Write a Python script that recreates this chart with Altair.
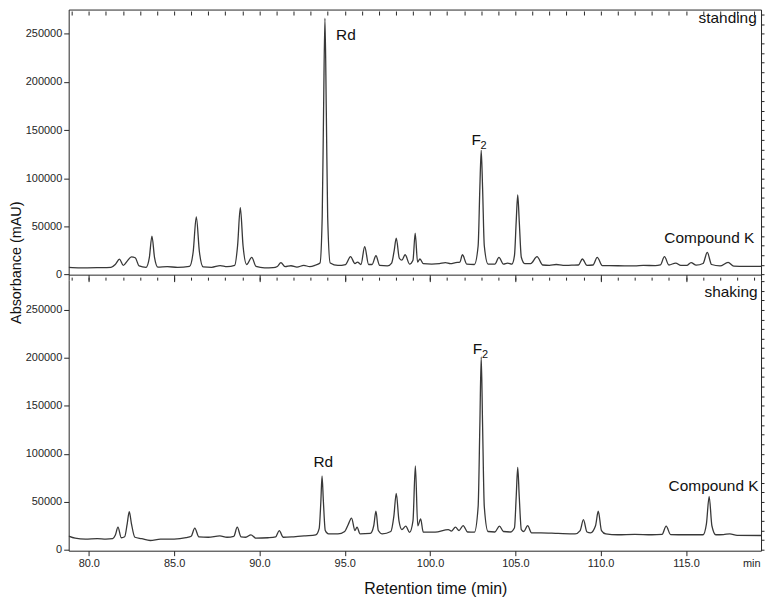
import altair as alt
import pandas as pd

# ---------------- data ----------------
# standing (upper trace): retention time (min) and absorbance (mAU)
top_time = [78.82, 79.5, 80.5, 81.3, 81.55, 81.8, 82.02, 82.25, 82.5, 82.72, 82.95, 83.35, 83.55, 83.7, 83.85,
            84.05, 84.6, 85.2, 85.9, 86.12, 86.3, 86.48, 86.7, 87.2, 87.7, 88.1, 88.55, 88.72, 88.88, 89.04,
            89.25, 89.55, 89.8, 90.3, 90.8, 91.05, 91.26, 91.5, 91.85, 92.2, 92.6, 92.95, 93.3, 93.55, 93.68,
            93.76, 93.84, 93.92, 94.0, 94.15, 94.6, 95.05, 95.34, 95.6, 95.75, 95.95, 96.17, 96.4, 96.6, 96.83,
            97.05, 97.5, 97.75, 97.9, 98.02, 98.2, 98.35, 98.54, 98.8, 99.0, 99.13, 99.27, 99.41, 99.6, 100.1,
            100.55, 100.9, 101.2, 101.5, 101.75, 101.9, 102.15, 102.6, 102.82, 102.92, 103.0, 103.08, 103.18,
            103.4, 103.8, 104.04, 104.3, 104.55, 104.8, 104.95, 105.05, 105.14, 105.23, 105.35, 105.55, 105.9,
            106.27, 106.6, 107.0, 107.4, 107.8, 108.3, 108.7, 108.93, 109.2, 109.55, 109.8, 110.1, 111.0,
            112.0, 112.5, 113.2, 113.5, 113.74, 114.0, 114.4, 114.7, 115.05, 115.3, 115.6, 116.0, 116.25,
            116.5, 117.0, 117.47, 117.8, 118.5, 119.87]
top_abs = [7500, 7000, 7200, 7500, 10500, 16000, 9500, 14000, 18500, 17500, 9000, 7500, 18000, 40000, 18000,
           7800, 8300, 7500, 8500, 24000, 60000, 24000, 8000, 7600, 9300, 8200, 9500, 30000, 69500, 30000,
           10500, 17900, 8500, 7000, 7200, 8500, 12500, 8200, 9200, 7800, 9600, 8300, 10000, 12000, 60000,
           170000, 266000, 170000, 60000, 12000, 9500, 10500, 18600, 11500, 13000, 10500, 28900, 10500, 10500, 19600,
           9500, 9000, 12000, 25000, 37900, 17000, 15000, 20600, 11000, 15000, 43000, 13000, 16200, 11500, 11000,
           11500, 12500, 11500, 12500, 13000, 20600, 11000, 10500, 30000, 90000, 129000, 90000, 30000,
           11000, 11000, 17900, 11000, 12000, 11000, 20000, 55000, 82600, 55000, 18000, 11500, 11500,
           18600, 10000, 9500, 10500, 9500, 9800, 10000, 16200, 9500, 10000, 17900, 9300, 9200,
           9000, 9600, 9300, 10000, 18600, 10000, 12000, 9500, 9500, 12500, 9800, 11500, 23000,
           10500, 9000, 12700, 8800, 8600, 8600]

# shaking (lower trace)
bot_time = [78.82, 79.2, 79.8, 80.5, 81.0, 81.4, 81.55, 81.71, 81.9, 82.1, 82.25, 82.37, 82.5, 82.7, 83.1,
            83.6, 84.2, 85.0, 85.7, 86.0, 86.21, 86.45, 87.0, 87.68, 88.1, 88.5, 88.7, 88.92, 89.2, 89.5,
            89.8, 90.5, 90.95, 91.16, 91.4, 92.0, 92.7, 93.3, 93.5, 93.6, 93.67, 93.75, 93.86, 94.05, 94.6,
            95.0, 95.2, 95.4, 95.6, 95.72, 95.9, 96.5, 96.7, 96.83, 96.97, 97.2, 97.7, 97.88, 98.02, 98.18,
            98.35, 98.58, 98.8, 99.0, 99.14, 99.28, 99.45, 99.6, 100.3, 101.07, 101.25, 101.49, 101.7, 101.94,
            102.2, 102.6, 102.82, 102.92, 103.0, 103.08, 103.18, 103.4, 103.8, 104.07, 104.3, 104.7, 104.95,
            105.05, 105.14, 105.23, 105.35, 105.5, 105.72, 105.95, 106.5, 107.5, 108.5, 108.8, 108.99, 109.2,
            109.41, 109.7, 109.86, 110.05, 110.3, 111.0, 112.0, 113.0, 113.6, 113.84, 114.1, 115.0, 116.0,
            116.2, 116.36, 116.52, 116.75, 117.2, 117.57, 118.0, 119.87]
bot_abs = [14200, 12000, 11000, 11600, 11000, 11500, 15000, 23500, 12500, 13500, 27000, 39700, 27000, 13000, 11500,
           9600, 11000, 11000, 12500, 14000, 22500, 13500, 13000, 14500, 13000, 14000, 23500, 13500, 13000, 15500,
           12000, 12500, 13500, 20000, 13000, 13500, 14500, 15500, 22000, 50000, 77000, 50000, 20000, 16500, 16500,
           19000, 26000, 32900, 20000, 23500, 16500, 17000, 25000, 40100, 20000, 16500, 19000, 35000, 58800, 30000,
           21000, 24600, 18000, 30000, 87400, 25000, 32100, 18500, 18300, 21000, 19500, 23500, 20000, 25200,
           18500, 18300, 45000, 130000, 200900, 130000, 45000, 19000, 18500, 24600, 19000, 18500, 23000,
           55000, 85700, 55000, 21000, 19000, 25200, 17500, 17500, 17000, 16600, 20000, 31400, 18500,
           17600, 25000, 40100, 20000, 16500, 15600, 16000, 15600, 16000, 24600, 15800, 15600, 15600,
           27000, 55700, 25000, 15600, 15800, 16600, 15000, 14800]

# peak annotations (text, retention time, absorbance at text baseline)
top_label_text = ["Rd", "F", "Compound K"]
top_label_time = [95.07, 102.70, 116.37]
top_label_abs = [243200, 134200, 32300]
top_sub_text = ["2"]
top_sub_time = [103.13]
top_sub_abs = [130000]
top_tag_text = ["standing"]
top_tag_time = [119.15]
top_tag_abs = [261400]

bot_label_text = ["Rd", "F", "Compound K"]
bot_label_time = [93.74, 102.78, 116.62]
bot_label_abs = [86400, 204300, 61200]
bot_sub_text = ["2"]
bot_sub_time = [103.22]
bot_sub_abs = [200200]
bot_tag_text = ["shaking"]
bot_tag_time = [119.2]
bot_tag_abs = [263700]

x_major = [80, 85, 90, 95, 100, 105, 110, 115]
x_minor = list(range(79, 120))
y_major = [0, 50000, 100000, 150000, 200000, 250000]
y_minor_top = list(range(0, 275000, 10000))
y_minor_bot = list(range(0, 281000, 10000))
unit_text = ["min"]
unit_time = [119.37]

X_DOMAIN = [78.82, 119.40]
TOP_DOMAIN = [-5700, 275000]
BOT_DOMAIN = [-1000, 281000]
W = 696
H = 272

FONT = "Liberation Sans"
NARROW = "Liberation Sans Narrow, Arial Narrow, Liberation Sans"
INK = "#262626"
LINE = "#383838"


def panel(times, values, y_domain, labels, subs, tag, y_minor, is_top):
    df = pd.DataFrame({"t": times, "v": values})
    xs = alt.Scale(domain=X_DOMAIN, nice=False, zero=False)
    ys = alt.Scale(domain=y_domain, nice=False, zero=False)

    if is_top:
        x_major_axis = alt.Axis(values=x_major, labels=False, tickSize=7, offset=-5.5, title=None,
                                grid=False, domainColor=INK, tickColor=INK)
        x_minor_axis = alt.Axis(values=x_minor, labels=False, tickSize=4, offset=-5.5, domain=False,
                                title=None, grid=False, tickColor=INK)
        y_major_axis = alt.Axis(values=y_major, format="d", tickSize=5, labelPadding=2, grid=False,
                                title="Absorbance (mAU)", titleFont=FONT, titleFontSize=14.5,
                                titleFontWeight="normal", titleColor="#111", titleAngle=270,
                                titleX=-52.5, titleY=254, titleAlign="center", titleBaseline="middle",
                                labelFont=FONT, labelFontSize=11, labelColor=INK,
                                domainColor=INK, tickColor=INK)
    else:
        x_major_axis = alt.Axis(values=x_major, format=".1f", tickSize=5, labelPadding=2, grid=False,
                                labelFont=NARROW, labelFontSize=11, labelColor=INK,
                                title="Retention time (min)", titleFont=FONT, titleFontSize=16,
                                titleFontWeight="normal", titleColor="#111",
                                titleX=368.5, titleY=43, titleAlign="center", titleBaseline="alphabetic",
                                domainColor=INK, tickColor=INK)
        x_minor_axis = alt.Axis(values=x_minor, labels=False, tickSize=3, domain=False, title=None,
                                grid=False, tickColor=INK)
        y_major_axis = alt.Axis(values=y_major, format="d", tickSize=5, labelPadding=2, grid=False,
                                title=None, labelFont=FONT, labelFontSize=11, labelColor=INK,
                                domainColor=INK, tickColor=INK)
    y_minor_axis = alt.Axis(values=y_minor, labels=False, tickSize=3, domain=False, title=None,
                            grid=False, tickColor=INK)

    line = alt.Chart(df).mark_line(color=LINE, strokeWidth=1.3, interpolate="monotone", clip=True).encode(
        x=alt.X("t:Q", scale=xs, axis=x_major_axis),
        y=alt.Y("v:Q", scale=ys, axis=y_major_axis),
    )
    minor = alt.Chart(df).mark_line(opacity=0, clip=True).encode(
        x=alt.X("t:Q", scale=xs, axis=x_minor_axis),
        y=alt.Y("v:Q", scale=ys, axis=y_minor_axis),
    )
    frame_x = alt.Axis(orient="top", labels=False, ticks=False, title=None, grid=False,
                       domainColor=INK) if is_top else None
    frame = alt.Chart(df).mark_line(opacity=0, clip=True).encode(
        x=alt.X("t:Q", scale=xs, axis=frame_x),
        y=alt.Y("v:Q", scale=ys, axis=alt.Axis(orient="right", labels=False, ticks=False, title=None,
                                               grid=False, domainColor=INK)),
    )

    lab_df = pd.DataFrame({"text": labels[0], "t": labels[1], "v": labels[2]})
    sub_df = pd.DataFrame({"text": subs[0], "t": subs[1], "v": subs[2]})
    tag_df = pd.DataFrame({"text": tag[0], "t": tag[1], "v": tag[2]})

    lab = alt.Chart(lab_df).mark_text(font=FONT, fontSize=15.5, color="#111", align="center",
                                      baseline="alphabetic").encode(
        x=alt.X("t:Q", scale=xs, axis=None), y=alt.Y("v:Q", scale=ys, axis=None), text="text:N")
    sub = alt.Chart(sub_df).mark_text(font=FONT, fontSize=11, color="#111", align="center",
                                      baseline="alphabetic").encode(
        x=alt.X("t:Q", scale=xs, axis=None), y=alt.Y("v:Q", scale=ys, axis=None), text="text:N")
    tg = alt.Chart(tag_df).mark_text(font=FONT, fontSize=15.5, color="#111", align="right",
                                     baseline="alphabetic").encode(
        x=alt.X("t:Q", scale=xs, axis=None), y=alt.Y("v:Q", scale=ys, axis=None), text="text:N")

    layers = [line, minor, frame, lab, sub, tg]
    if not is_top:
        unit_df = pd.DataFrame({"text": unit_text, "t": unit_time})
        unit = alt.Chart(unit_df).mark_text(font=NARROW, fontSize=11, color=INK, align="right",
                                            baseline="middle").encode(
            x=alt.X("t:Q", scale=xs, axis=None), y=alt.value(H + 13), text="text:N")
        layers.append(unit)

    return alt.layer(*layers).resolve_axis(x="independent", y="independent").properties(width=W, height=H)


top = panel(top_time, top_abs, TOP_DOMAIN,
            (top_label_text, top_label_time, top_label_abs),
            (top_sub_text, top_sub_time, top_sub_abs),
            (top_tag_text, top_tag_time, top_tag_abs), y_minor_top, True)
bottom = panel(bot_time, bot_abs, BOT_DOMAIN,
               (bot_label_text, bot_label_time, bot_label_abs),
               (bot_sub_text, bot_sub_time, bot_sub_abs),
               (bot_tag_text, bot_tag_time, bot_tag_abs), y_minor_bot, False)

chart = alt.vconcat(top, bottom, spacing=0, bounds="flush").properties(
    padding=0, background="white"
).configure_view(stroke=None).configure_axis(domainWidth=1, tickWidth=1)

chart.save("out.html", embed_options={"renderer": "svg", "actions": False})
